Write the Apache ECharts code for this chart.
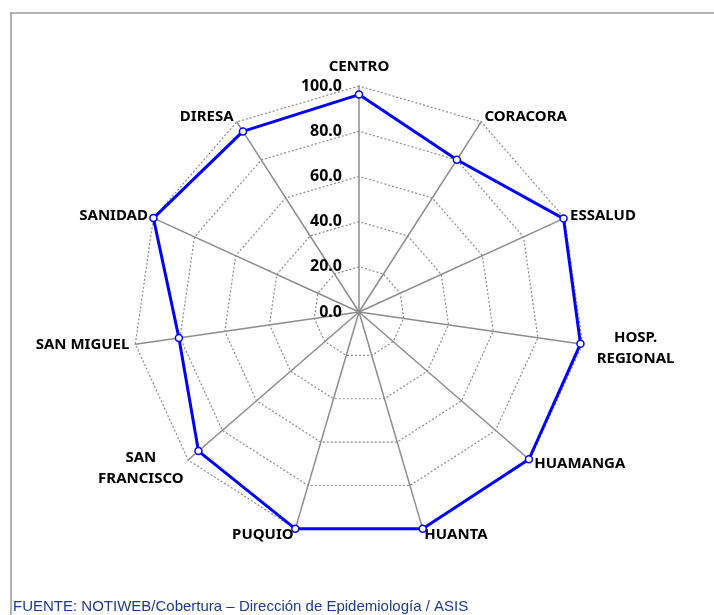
<!DOCTYPE html>
<html>
<head>
<meta charset="utf-8">
<script src="https://cdn.jsdelivr.net/npm/echarts@6/dist/echarts.min.js"></script>
<style>
html,body{margin:0;padding:0;background:#fff;}
#chart{width:714px;height:615px;}
</style>
</head>
<body>
<div id="chart"></div>
<script>
// Categories in clockwise order starting at top
var categories = ['CENTRO', 'CORACORA', 'ESSALUD', 'HOSP.\nREGIONAL', 'HUAMANGA', 'HUANTA', 'PUQUIO', 'SAN\nFRANCISCO', 'SAN MIGUEL', 'SANIDAD', 'DIRESA'];
var coverage = [96.2, 80.1, 99.5, 99.0, 99.5, 100.0, 100.0, 94.0, 80.5, 100.0, 95.0];
var tickValues = [0, 20, 40, 60, 80, 100];
var footerText = 'FUENTE: NOTIWEB/Cobertura \u2013 Direcci\u00f3n de Epidemiolog\u00eda / ASIS';

var CX = 359, CY = 312, R = 226;

// ECharts radar runs counter-clockwise; reorder to display clockwise
var order = [0];
for (var i = categories.length - 1; i >= 1; i--) order.push(i);
var indicators = order.map(function (k) { return { name: categories[k], min: 0, max: 100 }; });
var values = order.map(function (k) { return coverage[k]; });

var chart = echarts.init(document.getElementById('chart'), null, { renderer: 'canvas' });
var labelFont = { fontFamily: 'Noto Sans', fontWeight: 'bold', fontSize: 15, color: '#000' };
function rs(extra) { return Object.assign({ align: 'center', lineHeight: 21 }, labelFont, extra || {}); }
chart.setOption({
  backgroundColor: '#fff',
  animation: false,
  radar: {
    center: [CX, CY],
    radius: R,
    startAngle: 90,
    shape: 'polygon',
    splitNumber: 5,
    nameGap: 6,
    indicator: indicators,
    axisName: {
      formatter: function (name) {
        var parts = name.split('\n');
        if (parts.length > 1) {
          var st = name.indexOf('HOSP') === 0 ? 'h' : 'm';
          return parts.map(function (s) { return '{' + st + '|' + s + '}'; }).join('\n');
        }
        if (name === 'CENTRO') return '{t|' + name + '}';
        return '{c|' + name + '}';
      },
      rich: {
        c: rs(),
        m: rs({ padding: [9, 0, 0, 0] }),
        h: rs({ padding: [7, 0, 0, 8] }),
        t: rs({ padding: [0, 0, 6, 0] })
      }
    },
    axisLine: { lineStyle: { color: '#8c8c8c', width: 1.5 } },
    splitLine: { lineStyle: { color: '#8c8c8c', width: 1.2, type: [2, 2] } },
    splitArea: { show: false },
    axisTick: { show: false },
    axisLabel: { show: false }
  },
  grid: { left: CX, top: CY - R, width: 1, height: R, containLabel: false },
  xAxis: { type: 'value', show: false },
  yAxis: {
    type: 'value', min: 0, max: 100, interval: 20,
    axisLine: { show: false }, axisTick: { show: false }, splitLine: { show: false },
    axisLabel: {
      margin: 17, fontFamily: 'Noto Sans', fontWeight: 'bold', fontSize: 16, color: '#000',
      formatter: function (v) { return tickValues.indexOf(v) >= 0 ? v.toFixed(1) : ''; }
    }
  },
  series: [{
    type: 'radar',
    symbol: 'circle',
    symbolSize: 7,
    lineStyle: { color: '#0000ff', width: 3 },
    itemStyle: { color: '#ffffff', borderColor: '#0000ff', borderWidth: 1.5 },
    data: [{ value: values, name: 'Cobertura' }]
  }],
  graphic: [
    { type: 'line', shape: { x1: 10, y1: 13, x2: 714, y2: 13 }, style: { stroke: '#9a9a9a', lineWidth: 1.5 } },
    { type: 'line', shape: { x1: 11, y1: 13, x2: 11, y2: 615 }, style: { stroke: '#9a9a9a', lineWidth: 1.5 } },
    { type: 'text', left: 13, top: 599, style: { text: footerText, fill: '#1f3a8c', font: '15px "Liberation Sans", Arial, sans-serif' } }
  ]
});
</script>
</body>
</html>
